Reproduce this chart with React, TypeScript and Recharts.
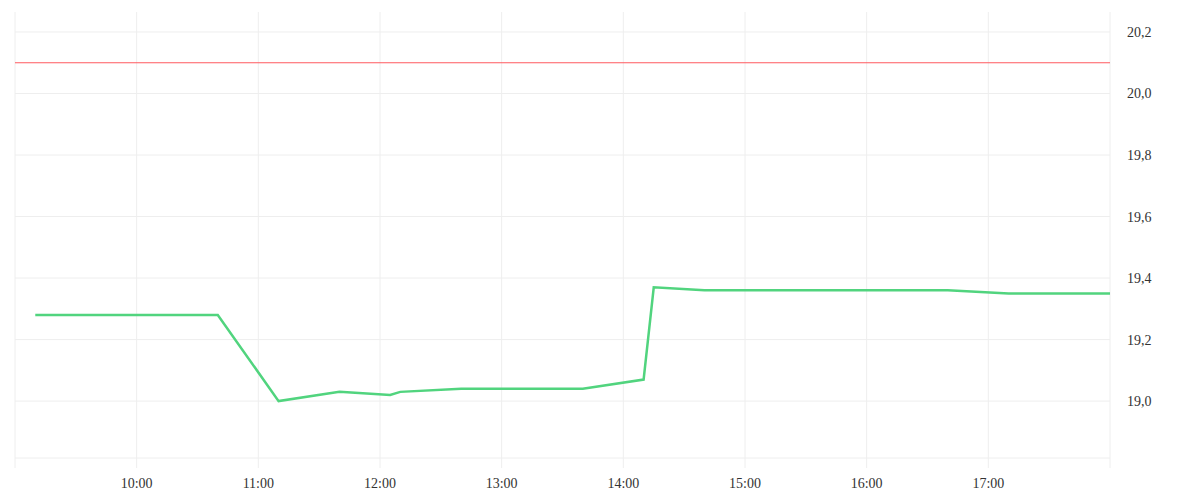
import { LineChart, Line, XAxis, YAxis, CartesianGrid, ReferenceLine } from 'recharts';

// time in decimal hours, price values
const times = [9 + 10 / 60, 10 + 40 / 60, 11 + 10 / 60, 11 + 40 / 60, 12 + 5 / 60, 12 + 10 / 60, 12 + 40 / 60, 13 + 40 / 60, 14 + 10 / 60, 14 + 15 / 60, 14 + 40 / 60, 16 + 40 / 60, 17 + 10 / 60, 18];
const prices = [19.28, 19.28, 19.0, 19.03, 19.02, 19.03, 19.04, 19.04, 19.07, 19.37, 19.36, 19.36, 19.35, 19.35];
const hourTicks = [9, 10, 11, 12, 13, 14, 15, 16, 17, 18];
const priceTicks = [19.0, 19.2, 19.4, 19.6, 19.8, 20.0, 20.2];
const limitPrice = 20.1;

const data = times.map((t, i) => ({ t, price: prices[i] }));

const fmtHour = (h: number) => (h === 9 || h === 18 ? '' : `${h}:00`);
const fmtPrice = (v: number) => v.toFixed(1).replace('.', ',');

const tickStyle = { fontSize: 14, fill: '#333', fontFamily: '"Liberation Serif", serif' };

export default function App() {
  return (
    <div style={{ position: 'absolute', left: 0, top: 0 }}>
      <LineChart width={1200} height={500} data={data} margin={{ top: 12, right: 0, left: 15, bottom: 0 }}>
        <CartesianGrid stroke="#eeeeee" horizontal={false} />
        {/* horizontal grid only at the price ticks */}
        {priceTicks.map((v) => (
          <ReferenceLine key={v} y={v} stroke="#eeeeee" strokeWidth={1} />
        ))}
        <XAxis
          dataKey="t"
          type="number"
          domain={[9, 18]}
          ticks={hourTicks}
          tickFormatter={fmtHour}
          axisLine={{ stroke: '#eeeeee' }}
          tickLine={{ stroke: '#eeeeee' }}
          tickSize={10}
          tickMargin={10}
          height={42}
          interval={0}
          tick={tickStyle}
        />
        <YAxis
          orientation="right"
          domain={[18.815, 20.265]}
          ticks={priceTicks}
          tickFormatter={fmtPrice}
          axisLine={false}
          tickLine={false}
          tickSize={6}
          tickMargin={11}
          width={90}
          interval={0}
          tick={tickStyle}
        />
        <ReferenceLine y={limitPrice} stroke="#ff5a5f" strokeWidth={1} />
        <Line
          dataKey="price"
          type="linear"
          stroke="#51d47e"
          strokeWidth={2.5}
          dot={false}
          isAnimationActive={false}
        />
      </LineChart>
    </div>
  );
}
